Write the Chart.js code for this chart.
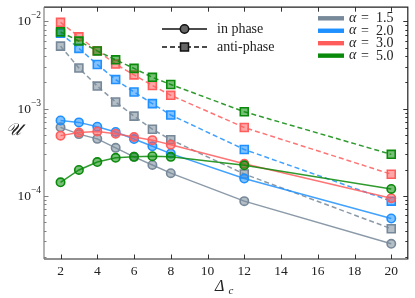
<!DOCTYPE html>
<html>
<head>
<meta charset="utf-8">
<script src="https://cdn.jsdelivr.net/npm/chart.js@4.4.0/dist/chart.umd.min.js"></script>
<style>
  html, body { margin: 0; padding: 0; background: #fff; }
  #wrap { width: 415px; height: 298px; }
</style>
</head>
<body>
<div id="wrap"><canvas id="chart" width="415" height="298"></canvas></div>
<script>
// x values (Delta_c)
const deltas = [2, 3, 4, 5, 6, 7, 8, 12, 20];
const alphaLabels = ['1.5', '2.0', '3.0', '5.0'];
const colors = ['#778899', '#1e90ff', '#ff5c5c', '#0a8a0a'];

// in phase (circles, solid)
const inPhase15 = [6.1e-4, 5.1e-4, 4.5e-4, 3.55e-4, 2.8e-4, 2.26e-4, 1.82e-4, 8.7e-5, 2.82e-5];
const inPhase20 = [7.3e-4, 6.95e-4, 6.2e-4, 5.4e-4, 4.48e-4, 3.7e-4, 3.05e-4, 1.58e-4, 5.5e-5];
const inPhase30 = [4.9e-4, 5.33e-4, 5.47e-4, 5.15e-4, 4.72e-4, 4.35e-4, 3.86e-4, 2.33e-4, 9.4e-5];
const inPhase50 = [1.43e-4, 1.98e-4, 2.44e-4, 2.73e-4, 2.8e-4, 2.85e-4, 2.8e-4, 2.24e-4, 1.2e-4];

// anti-phase (squares, dashed)
const anti15 = [5.2e-3, 2.92e-3, 1.81e-3, 1.19e-3, 8.2e-4, 5.8e-4, 4.4e-4, 1.78e-4, 4.2e-5];
const anti20 = [7.3e-3, 4.9e-3, 3.2e-3, 2.15e-3, 1.55e-3, 1.14e-3, 8.45e-4, 3.4e-4, 8.7e-5];
const anti30 = [9.75e-3, 6.65e-3, 4.6e-3, 3.24e-3, 2.43e-3, 1.84e-3, 1.42e-3, 6.07e-4, 1.77e-4];
const anti50 = [7.57e-3, 5.94e-3, 4.58e-3, 3.62e-3, 2.89e-3, 2.28e-3, 1.89e-3, 9.2e-4, 2.99e-4];

const xTicks = [2, 4, 6, 8, 10, 12, 14, 16, 18, 20];
const yDecades = [-4, -3, -2];

const SERIF = '"Liberation Serif", "DejaVu Serif", serif';

function rgba(hex, a) {
  const n = parseInt(hex.slice(1), 16);
  return `rgba(${n >> 16},${(n >> 8) & 255},${n & 255},${a})`;
}

const series = [
  [inPhase15, 0, false], [anti15, 0, true],
  [inPhase20, 1, false], [anti20, 1, true],
  [inPhase30, 2, false], [anti30, 2, true],
  [inPhase50, 3, false], [anti50, 3, true],
];

const datasets = series.map(([vals, ci, anti], idx) => ({
  data: deltas.map((d, k) => ({ x: d, y: vals[k] })),
  borderColor: rgba(colors[ci], 0.85),
  borderWidth: 1.5,
  borderDash: anti ? [5, 3] : [],
  pointStyle: anti ? 'rect' : 'circle',
  pointRadius: anti ? 5.6 : 4.2,
  pointBackgroundColor: rgba(colors[ci], 0.55),
  pointBorderColor: colors[ci],
  pointBorderWidth: 1.6,
  tension: 0,
  order: 20 - idx,
}));

const decor = {
  id: 'decor',
  afterDraw(chart) {
    const { ctx, chartArea: a, scales: { x, y } } = chart;
    ctx.save();

    // ticks pointing in
    ctx.lineWidth = 1;
    ctx.strokeStyle = '#333';
    ctx.beginPath();
    xTicks.forEach(v => {
      const px = Math.round(x.getPixelForValue(v)) + 0.5;
      ctx.moveTo(px, a.bottom); ctx.lineTo(px, a.bottom - 4.5);
      ctx.moveTo(px, a.top); ctx.lineTo(px, a.top + 4.5);
    });
    for (let k = -5; k <= -2; k++) {
      for (let m = 1; m <= 9; m++) {
        const v = m * Math.pow(10, k);
        if (v < y.min || v > y.max) continue;
        const py = Math.round(y.getPixelForValue(v)) + 0.5;
        const len = m === 1 ? 4.5 : 2.5;
        ctx.moveTo(a.right, py); ctx.lineTo(a.right - len, py);
      }
    }
    ctx.stroke();
    ctx.strokeStyle = '#808080';
    ctx.beginPath();
    for (let k = -5; k <= -2; k++) {
      for (let m = 1; m <= 9; m++) {
        const v = m * Math.pow(10, k);
        if (v < y.min || v > y.max) continue;
        const py = Math.round(y.getPixelForValue(v)) + 0.5;
        const len = m === 1 ? 4.5 : 2.5;
        ctx.moveTo(a.left, py); ctx.lineTo(a.left + len, py);
      }
    }
    ctx.stroke();

    // spines
    ctx.lineWidth = 1.2;
    ctx.strokeStyle = '#222';
    ctx.beginPath();
    ctx.moveTo(a.left, a.top); ctx.lineTo(a.right, a.top);
    ctx.lineTo(a.right, a.bottom); ctx.lineTo(a.left, a.bottom);
    ctx.stroke();
    ctx.strokeStyle = '#808080';
    ctx.beginPath();
    ctx.moveTo(a.left, a.top); ctx.lineTo(a.left, a.bottom);
    ctx.stroke();

    // y tick labels 10^k
    ctx.fillStyle = '#222';
    ctx.textBaseline = 'middle';
    yDecades.forEach(d => {
      const py = y.getPixelForValue(Math.pow(10, d));
      const exp = '\u2212' + Math.abs(d);
      ctx.font = `9.5px ${SERIF}`;
      const ew = ctx.measureText(exp).width;
      ctx.textAlign = 'left';
      ctx.fillText(exp, a.left - 3 - ew, py - 5.5);
      ctx.font = `13.5px ${SERIF}`;
      ctx.textAlign = 'right';
      ctx.fillText('10', a.left - 3 - ew, py + 0.5);
    });

    // axis titles
    ctx.textAlign = 'center';
    ctx.font = `italic 17px ${SERIF}`;
    ctx.fillText('\u{1D4B0}', 13, 131);
    ctx.textAlign = 'left';
    ctx.font = `italic 16px ${SERIF}`;
    ctx.fillText('\u0394', 215, 287);
    ctx.font = `italic 11px ${SERIF}`;
    ctx.fillText('c', 228.5, 291);

    // legend: line styles
    ctx.textAlign = 'left';
    ctx.font = `14px ${SERIF}`;
    [[29, false, 'in phase'], [47, true, 'anti-phase']].forEach(([ly, anti, label]) => {
      ctx.strokeStyle = '#111';
      ctx.lineWidth = 1.5;
      ctx.setLineDash(anti ? [5, 3] : []);
      ctx.beginPath(); ctx.moveTo(162, ly); ctx.lineTo(207, ly); ctx.stroke();
      ctx.setLineDash([]);
      ctx.fillStyle = '#666';
      ctx.beginPath();
      if (anti) ctx.rect(180.5, ly - 4, 8, 8);
      else ctx.arc(184.5, ly, 4.2, 0, Math.PI * 2);
      ctx.fill(); ctx.stroke();
      ctx.fillStyle = '#222';
      ctx.fillText(label, 217, ly + 0.5);
    });

    // legend: alpha colours
    alphaLabels.forEach((lab, i) => {
      const ly = 18.3 + i * 12.45;
      ctx.fillStyle = colors[i];
      ctx.fillRect(318, ly - 2.2, 26, 4.4);
      ctx.fillStyle = '#222';
      ctx.font = `italic 14px ${SERIF}`;
      ctx.fillText('\u03b1', 349, ly);
      ctx.font = `14px ${SERIF}`;
      ctx.fillText('=', 361, ly + 0.5);
      ctx.fillText(lab, 376, ly + 0.5);
    });

    ctx.restore();
  }
};

new Chart(document.getElementById('chart'), {
  type: 'line',
  data: { datasets },
  options: {
    responsive: false,
    animation: false,
    devicePixelRatio: 1,
    layout: { padding: { left: 0, right: 7, top: 4, bottom: 0 } },
    plugins: { legend: { display: false }, tooltip: { enabled: false } },
    scales: {
      x: {
        type: 'linear',
        min: 1.1,
        max: 20.9,
        afterBuildTicks: s => { s.ticks = xTicks.map(v => ({ value: v })); },
        afterFit: s => { s.height = 39; },
        grid: { display: false, drawTicks: false },
        border: { display: false },
        ticks: { font: { family: SERIF, size: 13.5 }, color: '#222', padding: 4, maxRotation: 0, autoSkip: false },
      },
      y: {
        type: 'logarithmic',
        min: 1.89e-5,
        max: 0.01452,
        afterFit: s => { s.width = 44; },
        grid: { display: false },
        border: { display: false },
        ticks: { display: false },
      },
    },
  },
  plugins: [decor],
});
</script>
</body>
</html>
